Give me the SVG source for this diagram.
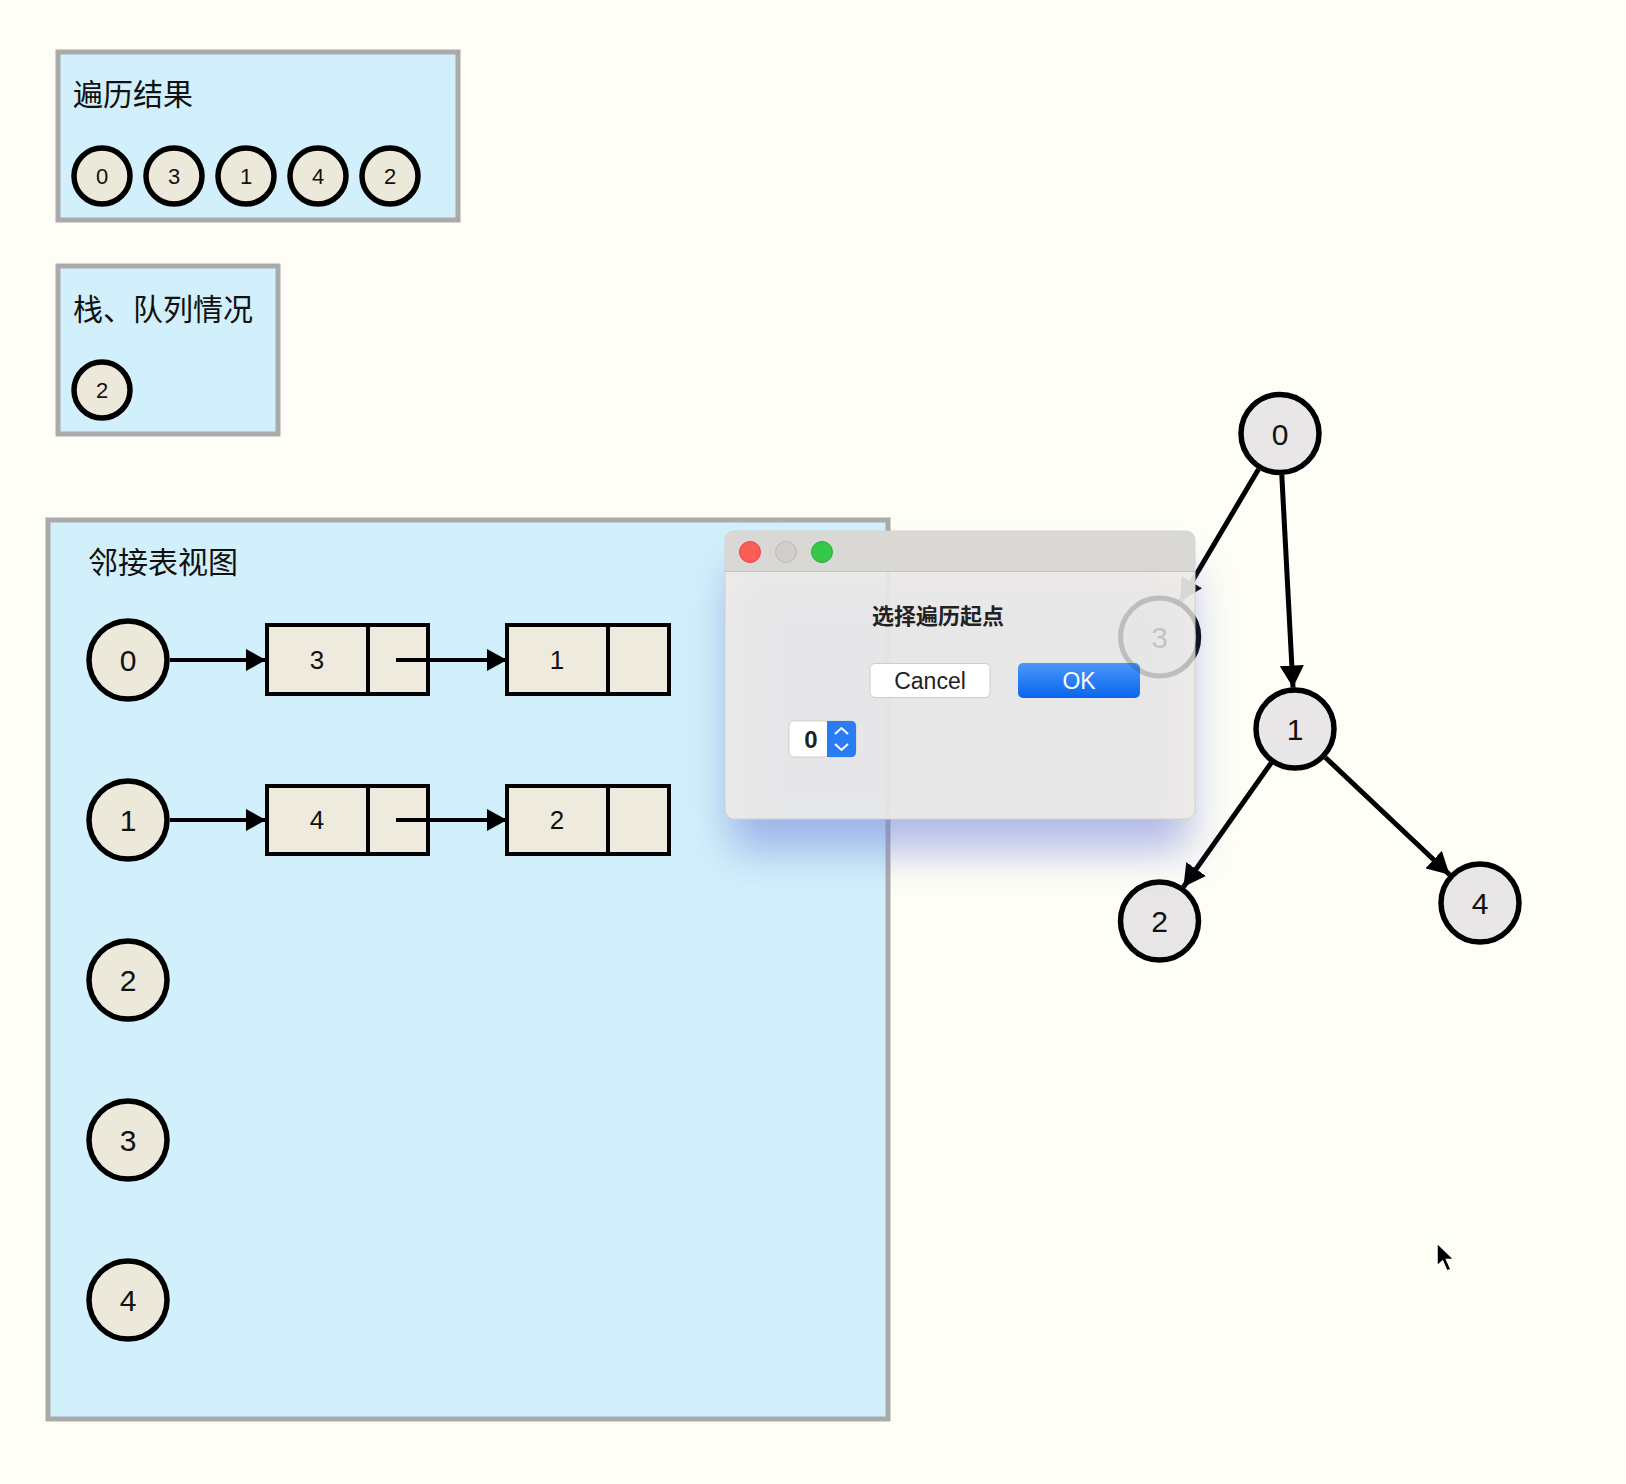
<svg xmlns="http://www.w3.org/2000/svg" width="1626" height="1484" viewBox="0 0 1626 1484">
<style>
.panel{fill:#d1f0fb;stroke:#aaaaaa;stroke-width:5}
.title{font-family:"Noto Sans CJK SC","Noto Sans",sans-serif;font-size:30px;fill:#111}
.sm{fill:#ece8da;stroke:#000;stroke-width:5.5}
.big{fill:#ece8da;stroke:#000;stroke-width:5.5}
.gn{fill:#e8e6e6;stroke:#000;stroke-width:5.5}
.num{font-family:"Liberation Sans",Arial,sans-serif;fill:#111;text-anchor:middle}
.cell{fill:#eeeade;stroke:#000;stroke-width:4}
.adj{stroke:#000;stroke-width:4;fill:none}
.edge{stroke:#000;stroke-width:5;fill:none}
.btn{font-family:"Liberation Sans",Arial,sans-serif;font-size:23px;text-anchor:middle}
</style>
<defs>
<marker id="ah" markerUnits="userSpaceOnUse" markerWidth="20" markerHeight="22" refX="20" refY="11" orient="auto">
<path d="M0,0 L20,11 L0,22 z" fill="#000"/>
</marker>
<marker id="gh" markerUnits="userSpaceOnUse" markerWidth="22" markerHeight="24" refX="22" refY="12" orient="auto">
<path d="M0,0 L22,12 L0,24 z" fill="#000"/>
</marker>
<filter id="shadow" x="-30%" y="-30%" width="160%" height="170%">
<feGaussianBlur stdDeviation="22"/>
</filter>
<linearGradient id="okg" x1="0" y1="0" x2="0" y2="1">
<stop offset="0" stop-color="#4a98fa"/>
<stop offset="1" stop-color="#0a64ee"/>
</linearGradient>
</defs>
<rect x="0" y="0" width="1626" height="1484" fill="#fefef6"/>

<g id="result-panel">
<rect class="panel" x="58" y="52" width="400" height="168"/>
<text class="title" x="73" y="105">遍历结果</text>
<g id="r0"><circle class="sm" cx="102" cy="176" r="28"/><text class="num" x="102" y="184" font-size="22">0</text></g>
<g id="r3"><circle class="sm" cx="174" cy="176" r="28"/><text class="num" x="174" y="184" font-size="22">3</text></g>
<g id="r1"><circle class="sm" cx="246" cy="176" r="28"/><text class="num" x="246" y="184" font-size="22">1</text></g>
<g id="r4"><circle class="sm" cx="318" cy="176" r="28"/><text class="num" x="318" y="184" font-size="22">4</text></g>
<g id="r2"><circle class="sm" cx="390" cy="176" r="28"/><text class="num" x="390" y="184" font-size="22">2</text></g>
</g>

<g id="stack-panel">
<rect class="panel" x="58" y="266" width="220" height="168"/>
<text class="title" x="73" y="320">栈、队列情况</text>
<g id="s2"><circle class="sm" cx="102" cy="390" r="28"/><text class="num" x="102" y="398" font-size="22">2</text></g>
</g>

<g id="adj-panel">
<rect class="panel" x="48" y="520" width="840" height="899"/>
<text class="title" x="88" y="573">邻接表视图</text>
</g>

<g id="v0"><circle class="big" cx="128" cy="660" r="39"/><text class="num" x="128" y="671" font-size="30">0</text></g>
<g id="v1"><circle class="big" cx="128" cy="820" r="39"/><text class="num" x="128" y="831" font-size="30">1</text></g>
<g id="v2"><circle class="big" cx="128" cy="980" r="39"/><text class="num" x="128" y="991" font-size="30">2</text></g>
<g id="v3"><circle class="big" cx="128" cy="1140" r="39"/><text class="num" x="128" y="1151" font-size="30">3</text></g>
<g id="v4"><circle class="big" cx="128" cy="1300" r="39"/><text class="num" x="128" y="1311" font-size="30">4</text></g>

<g id="e0-3">
<rect class="cell" x="267" y="625" width="161" height="69"/>
<line class="adj" x1="368" y1="625" x2="368" y2="694"/>
<text class="num" x="317" y="669" font-size="26">3</text>
</g>
<g id="e0-1">
<rect class="cell" x="507" y="625" width="162" height="69"/>
<line class="adj" x1="608" y1="625" x2="608" y2="694"/>
<text class="num" x="557" y="669" font-size="26">1</text>
</g>
<g id="e1-4">
<rect class="cell" x="267" y="786" width="161" height="68"/>
<line class="adj" x1="368" y1="786" x2="368" y2="854"/>
<text class="num" x="317" y="829" font-size="26">4</text>
</g>
<g id="e1-2">
<rect class="cell" x="507" y="786" width="162" height="68"/>
<line class="adj" x1="608" y1="786" x2="608" y2="854"/>
<text class="num" x="557" y="829" font-size="26">2</text>
</g>

<g id="adj-connectors">
<line class="adj" x1="170" y1="660" x2="266" y2="660" marker-end="url(#ah)"/>
<line class="adj" x1="396" y1="660" x2="507" y2="660" marker-end="url(#ah)"/>
<line class="adj" x1="170" y1="820" x2="266" y2="820" marker-end="url(#ah)"/>
<line class="adj" x1="396" y1="820" x2="507" y2="820" marker-end="url(#ah)"/>
</g>

<g id="graph-connectors">
<line class="edge" x1="1281.8" y1="475" x2="1293" y2="687.6" marker-end="url(#gh)"/>
<line class="edge" x1="1258.5" y1="469.2" x2="1180.5" y2="601" marker-end="url(#gh)"/>
<line class="edge" x1="1271.2" y1="762.9" x2="1183.4" y2="887" marker-end="url(#gh)"/>
<line class="edge" x1="1325.4" y1="757.5" x2="1449.6" y2="874.7" marker-end="url(#gh)"/>
</g>

<g id="g0"><circle class="gn" cx="1280" cy="433.5" r="39"/><text class="num" x="1280" y="444.5" font-size="30">0</text></g>
<g id="g1"><circle class="gn" cx="1295" cy="729" r="39"/><text class="num" x="1295" y="740" font-size="30">1</text></g>
<g id="g2"><circle class="gn" cx="1159.5" cy="921" r="39"/><text class="num" x="1159.5" y="932" font-size="30">2</text></g>
<g id="g4"><circle class="gn" cx="1480" cy="903" r="39"/><text class="num" x="1480" y="914" font-size="30">4</text></g>
<g id="g3"><circle class="gn" cx="1159.5" cy="637" r="39"/><text class="num" x="1159.5" y="648" font-size="30">3</text></g>

<g id="dialog">
<rect x="730" y="570" width="460" height="280" rx="10" fill="#6f7fd8" opacity="0.55" filter="url(#shadow)"/>
<rect x="725" y="531" width="470" height="288" rx="9" fill="#eeece8" fill-opacity="0.9" stroke="#d2d0cc" stroke-width="1"/>
<path d="M725,571 L725,540 Q725,531 734,531 L1186,531 Q1195,531 1195,540 L1195,571 Z" fill="#d8d6d3" fill-opacity="0.92"/>
<line x1="725" y1="571.5" x2="1195" y2="571.5" stroke="#c4c2bf" stroke-width="1"/>
<circle cx="750" cy="552" r="10.5" fill="#fc5d57" stroke="#e0443e" stroke-width="1"/>
<circle cx="786" cy="552" r="10.5" fill="#d1cfcc" stroke="#bdbbb8" stroke-width="1"/>
<circle cx="822" cy="552" r="10.5" fill="#35c84a" stroke="#25a83a" stroke-width="1"/>
<text x="938" y="624" text-anchor="middle" font-family="'Noto Sans CJK SC','Noto Sans',sans-serif" font-size="22" font-weight="bold" fill="#222">选择遍历起点</text>
<rect x="870" y="663.5" width="120" height="34" rx="5" fill="#ffffff" stroke="#cfcdca" stroke-width="1"/>
<text class="btn" x="930" y="689" fill="#222">Cancel</text>
<rect x="1018" y="663" width="122" height="35" rx="5" fill="url(#okg)"/>
<text class="btn" x="1079" y="689" fill="#ffffff">OK</text>
<rect x="789" y="721" width="67" height="36" rx="5" fill="#ffffff" stroke="#d0cecb" stroke-width="1"/>
<path d="M827,721 L851,721 Q856,721 856,726 L856,752 Q856,757 851,757 L827,757 Z" fill="#2a7cf4"/>
<path d="M835,734 L841.5,728 L848,734 M835,744 L841.5,750 L848,744" stroke="#fff" stroke-width="2" fill="none"/>
<text x="811" y="747.5" text-anchor="middle" font-family="'Liberation Sans',Arial,sans-serif" font-size="24" font-weight="bold" fill="#222">0</text>
</g>

<g id="ghost3" opacity="0.13">
<circle cx="1159.5" cy="637" r="39" fill="none" stroke="#000" stroke-width="5"/>
<text class="num" x="1159.5" y="648" font-size="30">3</text>
</g>

<g id="cursor">
<path d="M1437,1243 L1437,1266 L1442.5,1261 L1447,1271 L1451,1269.5 L1446.5,1259.5 L1454,1259.5 Z" fill="#000" stroke="#fff" stroke-width="1.5"/>
</g>
</svg>
